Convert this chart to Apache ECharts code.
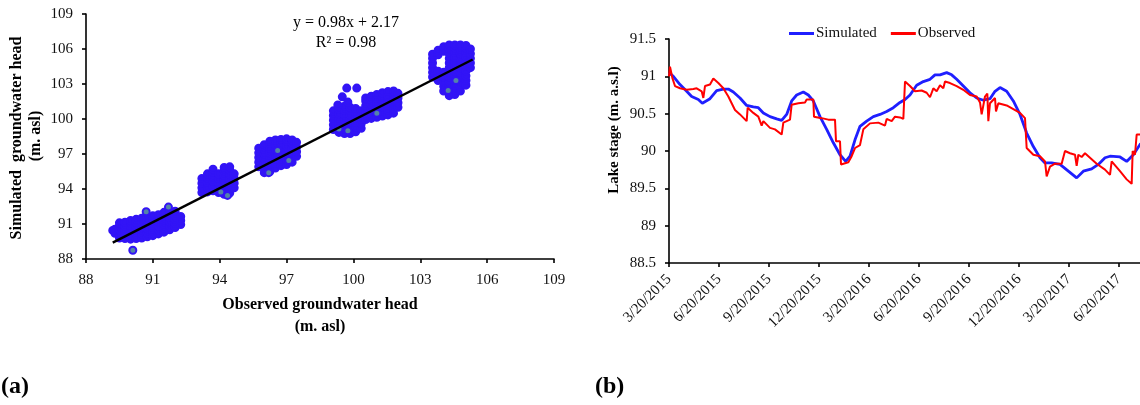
<!DOCTYPE html>
<html>
<head>
<meta charset="utf-8">
<script src="https://cdn.jsdelivr.net/npm/echarts@6/dist/echarts.min.js"></script>
<style>
  html, body { margin: 0; padding: 0; background: #fff; }
  #chart { width: 1140px; height: 405px; }
</style>
</head>
<body>
<div id="chart"></div>
<script>
// ---------- (a) scatter: observed vs simulated groundwater head (m. asl) ----------
const scatterTicks = [88, 91, 94, 97, 100, 103, 106, 109];
const scatterPoints = [
  // cluster near 90-92
  [89.3,90.2],[89.3,90.55],
  [89.5,89.8],[89.5,90.15],[89.5,90.5],[89.5,90.85],[89.5,91.1],
  [89.75,89.75],[89.75,90.1],[89.75,90.45],[89.75,90.8],[89.75,91.15],
  [90.0,89.7],[90.0,90.05],[90.0,90.4],[90.0,90.75],[90.0,91.1],[90.0,91.3],
  [90.25,89.75],[90.25,90.1],[90.25,90.45],[90.25,90.8],[90.25,91.15],[90.25,91.4],
  [90.5,89.8],[90.5,90.15],[90.5,90.5],[90.5,90.85],[90.5,91.2],[90.5,91.5],
  [90.75,89.9],[90.75,90.25],[90.75,90.6],[90.75,90.95],[90.75,91.3],[90.75,91.6],
  [91.0,90.0],[91.0,90.35],[91.0,90.7],[91.0,91.05],[91.0,91.4],[91.0,91.7],
  [91.25,90.15],[91.25,90.5],[91.25,90.85],[91.25,91.2],[91.25,91.55],[91.25,91.8],
  [91.5,90.3],[91.5,90.65],[91.5,91.0],[91.5,91.35],[91.5,91.7],[91.5,92.0],
  [91.75,90.5],[91.75,90.85],[91.75,91.2],[91.75,91.55],[91.75,91.9],[91.75,92.1],
  [92.0,90.7],[92.0,91.05],[92.0,91.4],[92.0,91.75],[92.0,92.1],
  [92.25,90.95],[92.25,91.3],[92.25,91.65],
  [89.2,90.45],
  // cluster near 94
  [93.2,93.7],[93.2,94.1],[93.2,94.5],[93.2,94.9],
  [93.45,93.75],[93.45,94.15],[93.45,94.55],[93.45,94.95],[93.45,95.3],
  [93.7,93.85],[93.7,94.25],[93.7,94.65],[93.7,95.05],[93.7,95.45],[93.7,95.7],
  [93.95,93.7],[93.95,94.1],[93.95,94.5],[93.95,94.9],[93.95,95.3],
  [94.2,93.55],[94.2,93.95],[94.2,94.35],[94.2,94.75],[94.2,95.15],[94.2,95.55],[94.2,95.85],
  [94.45,93.65],[94.45,94.05],[94.45,94.45],[94.45,94.85],[94.45,95.25],[94.45,95.65],[94.45,95.9],
  [94.65,94.1],[94.65,94.5],[94.65,94.9],[94.65,95.3],
  // cluster near 96-97
  [95.75,95.9],[95.75,96.3],[95.75,96.7],[95.75,97.1],[95.75,97.5],
  [96.0,95.4],[96.0,95.8],[96.0,96.2],[96.0,96.6],[96.0,97.0],[96.0,97.4],[96.0,97.8],
  [96.25,95.5],[96.25,95.9],[96.25,96.3],[96.25,96.7],[96.25,97.1],[96.25,97.5],[96.25,97.9],[96.25,98.1],
  [96.5,95.8],[96.5,96.2],[96.5,96.6],[96.5,97.0],[96.5,97.4],[96.5,97.8],[96.5,98.2],
  [96.75,96.0],[96.75,96.4],[96.75,96.8],[96.75,97.2],[96.75,97.6],[96.75,98.0],[96.75,98.25],
  [97.0,96.1],[97.0,96.5],[97.0,96.9],[97.0,97.3],[97.0,97.7],[97.0,98.1],[97.0,98.3],
  [97.25,96.3],[97.25,96.7],[97.25,97.1],[97.25,97.5],[97.25,97.9],[97.25,98.2],
  [97.45,96.8],[97.45,97.2],[97.45,97.6],[97.45,98.0],
  // cluster near 99-100
  [99.1,99.1],[99.1,99.5],[99.1,99.9],[99.1,100.3],[99.1,100.7],
  [99.35,98.85],[99.35,99.25],[99.35,99.65],[99.35,100.05],[99.35,100.45],[99.35,100.85],
  [99.6,98.75],[99.6,99.15],[99.6,99.55],[99.6,99.95],[99.6,100.35],[99.6,100.75],[99.6,101.1],
  [99.85,98.75],[99.85,99.15],[99.85,99.55],[99.85,99.95],[99.85,100.35],[99.85,100.75],[99.85,101.0],
  [100.1,98.9],[100.1,99.3],[100.1,99.7],[100.1,100.1],[100.1,100.5],[100.1,100.9],
  [100.35,99.2],[100.35,99.6],[100.35,100.0],[100.35,100.4],[100.35,100.7],
  [99.5,101.9],[99.75,101.45],[99.7,102.65],[100.15,102.65],[99.3,101.2],
  // cluster near 101-102
  [100.55,99.95],[100.55,100.35],[100.55,100.75],[100.55,101.15],[100.55,101.55],[100.55,101.8],
  [100.8,100.05],[100.8,100.45],[100.8,100.85],[100.8,101.25],[100.8,101.65],[100.8,101.95],
  [101.05,100.15],[101.05,100.55],[101.05,100.95],[101.05,101.35],[101.05,101.75],[101.05,102.1],
  [101.3,100.25],[101.3,100.65],[101.3,101.05],[101.3,101.45],[101.3,101.85],[101.3,102.25],
  [101.55,100.35],[101.55,100.75],[101.55,101.15],[101.55,101.55],[101.55,101.95],[101.55,102.35],
  [101.8,100.5],[101.8,100.9],[101.8,101.3],[101.8,101.7],[101.8,102.1],[101.8,102.4],
  [102.0,101.0],[102.0,101.4],[102.0,101.8],[102.0,102.2],
  // cluster near 104-105
  [103.55,103.6],[103.55,104.0],[103.55,104.4],[103.55,104.8],[103.55,105.2],[103.55,105.55],
  [103.8,103.3],[103.8,103.7],[103.8,104.1],[103.8,105.5],[103.8,105.9],
  [104.05,102.4],[104.05,102.8],[104.05,103.2],[104.05,103.6],[104.05,104.0],[104.05,105.8],[104.05,106.2],
  [104.3,102.0],[104.3,102.4],[104.3,102.8],[104.3,103.2],[104.3,103.6],[104.3,104.0],[104.3,104.4],[104.3,104.8],[104.3,105.2],[104.3,105.6],[104.3,106.0],[104.3,106.35],
  [104.55,102.1],[104.55,102.5],[104.55,102.9],[104.55,103.3],[104.55,103.7],[104.55,104.1],[104.55,104.5],[104.55,104.9],[104.55,105.3],[104.55,105.7],[104.55,106.1],[104.55,106.35],
  [104.8,102.4],[104.8,102.8],[104.8,103.2],[104.8,103.6],[104.8,104.0],[104.8,104.4],[104.8,104.8],[104.8,105.2],[104.8,105.6],[104.8,106.0],[104.8,106.35],
  [105.05,102.9],[105.05,103.3],[105.05,103.7],[105.05,104.1],[105.05,104.5],[105.05,104.9],[105.05,105.3],[105.05,105.7],[105.05,106.1],[105.05,106.3],
  [105.25,104.4],[105.25,104.8],[105.25,105.2],[105.25,105.6],[105.25,106.0]
];
// points whose lighter fill is visible in the figure
const scatterVisiblePoints = [
  [90.1,88.75],[90.7,92.05],[91.7,92.45],[94.05,93.75],[94.35,93.45],
  [96.2,95.4],[97.1,96.45],[96.6,97.3],[99.35,99.15],[99.75,99.0],
  [101.05,100.5],[104.6,103.3],[104.25,102.45]
];
// fitted line y = 0.98x + 2.17 as drawn (end points)
const trendX = [89.2, 105.35];
const trendY = [89.4, 105.1];

// ---------- (b) lake stage time series ----------
// x = months after 3/20/2015
const dateTickLabels = ['3/20/2015','6/20/2015','9/20/2015','12/20/2015','3/20/2016',
  '6/20/2016','9/20/2016','12/20/2016','3/20/2017','6/20/2017'];
const stageTicks = [88.5, 89, 89.5, 90, 90.5, 91, 91.5];
const simulatedMonths = [0.0,0.26,0.66,1.06,1.36,1.76,2.0,2.46,2.86,3.26,3.56,3.86,4.26,4.66,5.06,5.36,5.66,6.06,6.46,6.76,7.06,7.36,7.66,8.06,8.36,8.66,9.06,9.46,9.86,10.26,10.6,10.86,11.16,11.46,11.86,12.26,12.66,13.06,13.46,13.86,14.16,14.46,14.86,15.26,15.66,15.96,16.26,16.66,16.96,17.26,17.66,18.06,18.46,18.86,19.26,19.56,19.86,20.26,20.66,21.06,21.46,21.86,22.26,22.56,22.96,23.46,23.96,24.46,24.86,25.36,25.76,26.16,26.46,27.06,27.46,27.86,28.3];
const simulatedStage = [91.05,91.0,90.89,90.8,90.73,90.69,90.64,90.70,90.81,90.83,90.83,90.79,90.71,90.61,90.59,90.58,90.51,90.46,90.43,90.41,90.49,90.67,90.75,90.79,90.75,90.67,90.46,90.29,90.11,89.95,89.86,89.93,90.15,90.33,90.40,90.46,90.49,90.53,90.58,90.65,90.69,90.75,90.88,90.93,90.96,91.02,91.02,91.05,91.02,90.96,90.87,90.78,90.71,90.68,90.70,90.80,90.85,90.80,90.67,90.49,90.24,90.06,89.91,89.84,89.84,89.82,89.73,89.64,89.73,89.76,89.82,89.91,89.93,89.92,89.86,89.95,90.1];
const observedMonths = [0.0,0.06,0.2,0.36,0.66,1.06,1.46,1.66,1.96,2.06,2.16,2.46,2.66,2.96,3.26,3.56,3.96,4.26,4.66,4.72,5.06,5.36,5.56,5.66,6.06,6.36,6.76,6.86,7.26,7.36,7.76,8.16,8.26,8.66,8.7,9.16,9.56,9.66,9.96,10.02,10.26,10.32,10.76,10.96,11.16,11.46,11.66,12.06,12.56,12.96,13.06,13.36,13.56,13.86,14.06,14.16,14.46,14.76,15.16,15.46,15.66,15.86,16.06,16.26,16.46,16.56,16.86,17.26,17.66,18.06,18.46,18.66,18.76,18.96,19.1,19.16,19.26,19.56,19.62,19.76,20.26,20.66,21.06,21.36,21.46,21.86,22.26,22.56,22.66,22.86,23.16,23.56,23.76,24.06,24.36,24.46,24.56,24.76,24.96,25.26,25.66,26.16,26.46,26.56,27.06,27.46,27.76,27.82,27.96,28.06,28.3];
const observedStage = [91.0,91.13,90.98,90.87,90.84,90.82,90.83,90.84,90.80,90.71,90.87,90.89,90.97,90.91,90.84,90.73,90.55,90.49,90.40,90.58,90.51,90.46,90.34,90.40,90.31,90.29,90.22,90.38,90.42,90.62,90.64,90.65,90.69,90.69,90.46,90.44,90.42,90.44,90.42,90.13,90.13,89.82,89.85,89.93,90.04,90.08,90.29,90.37,90.38,90.34,90.43,90.40,90.46,90.45,90.43,90.93,90.87,90.80,90.81,90.78,90.72,90.84,90.80,90.88,90.84,90.93,90.91,90.87,90.82,90.75,90.73,90.65,90.49,90.73,90.77,90.40,90.64,90.71,90.53,90.64,90.61,90.56,90.51,90.44,90.04,89.95,89.93,89.86,89.66,89.79,89.83,89.83,90.0,89.97,89.95,89.80,89.95,89.92,89.97,89.91,89.83,89.75,89.68,89.86,89.73,89.62,89.56,90.0,89.95,90.22,90.22];
// the time axis runs on past the right edge of the figure
const dateAxisMaxMonths = 28.26;

const FONT = "'Liberation Serif', 'Times New Roman', serif";
const pairs = (xs, ys) => xs.map((x, i) => [x, ys[i]]);

const axisCommon = {
  axisLine: { show: true, lineStyle: { color: '#000', width: 1.6 } },
  axisTick: { show: true, length: 4, lineStyle: { color: '#000', width: 1.6 } },
  splitLine: { show: false },
};

function txt(text, x, y, size, bold, rot, align) {
  return {
    type: 'text', x: x, y: y, rotation: rot || 0,
    style: { text: text, fill: '#000', align: align || 'center', verticalAlign: 'middle',
      font: (bold ? 'bold ' : '') + size + 'px ' + FONT }
  };
}

const chart = echarts.init(document.getElementById('chart'));
chart.setOption({
  animation: false,
  backgroundColor: '#fff',
  textStyle: { fontFamily: FONT },
  legend: {
    data: ['Simulated', 'Observed'],
    left: 784, top: 21,
    icon: 'rect',
    itemWidth: 25, itemHeight: 3, itemGap: 14,
    textStyle: { fontFamily: FONT, fontSize: 15, color: '#111', padding: [0, 0, 0, -3] }
  },
  grid: [
    { left: 86, top: 14, width: 468, height: 245 },
    { left: 669, top: 39, right: 0, height: 224 }
  ],
  xAxis: [
    Object.assign({}, axisCommon, {
      gridIndex: 0, type: 'value', min: scatterTicks[0], max: scatterTicks[scatterTicks.length - 1], interval: 3,
      axisLabel: { fontFamily: FONT, fontSize: 15, color: '#111', margin: 14 }
    }),
    Object.assign({}, axisCommon, {
      gridIndex: 1, type: 'value', min: 0, max: dateAxisMaxMonths, interval: 3,
      axisLabel: {
        fontFamily: FONT, fontSize: 15, color: '#111', margin: 14, rotate: 45,
        showMaxLabel: false,
        formatter: v => (Math.abs(v % 3) < 1e-6 ? (dateTickLabels[Math.round(v / 3)] || '') : '')
      }
    })
  ],
  yAxis: [
    Object.assign({}, axisCommon, {
      gridIndex: 0, type: 'value', min: scatterTicks[0], max: scatterTicks[scatterTicks.length - 1], interval: 3,
      axisLabel: { fontFamily: FONT, fontSize: 15, color: '#111', margin: 13 }
    }),
    Object.assign({}, axisCommon, {
      gridIndex: 1, type: 'value', min: stageTicks[0], max: stageTicks[stageTicks.length - 1], interval: 0.5,
      axisLabel: { fontFamily: FONT, fontSize: 15, color: '#111', margin: 13 }
    })
  ],
  series: [
    {
      type: 'scatter', xAxisIndex: 0, yAxisIndex: 0, data: scatterPoints,
      symbol: 'circle', symbolSize: 7,
      itemStyle: { color: '#3214f6', borderColor: '#3214f6', borderWidth: 2, opacity: 1 }
    },
    {
      type: 'scatter', xAxisIndex: 0, yAxisIndex: 0, data: scatterVisiblePoints,
      symbol: 'circle', symbolSize: 7,
      itemStyle: { color: '#5383a8', borderColor: '#3214f6', borderWidth: 2, opacity: 1 }
    },
    {
      type: 'line', xAxisIndex: 0, yAxisIndex: 0, data: pairs(trendX, trendY),
      symbol: 'none', lineStyle: { color: '#000', width: 2.5 }, z: 5
    },
    {
      name: 'Simulated', type: 'line', xAxisIndex: 1, yAxisIndex: 1,
      data: pairs(simulatedMonths, simulatedStage),
      symbol: 'none', color: '#1f1fff', lineStyle: { color: '#1f1fff', width: 2.8 }
    },
    {
      name: 'Observed', type: 'line', xAxisIndex: 1, yAxisIndex: 1,
      data: pairs(observedMonths, observedStage),
      symbol: 'none', color: '#ff0000', lineStyle: { color: '#ff0000', width: 2 }
    }
  ],
  graphic: [
    txt('y = 0.98x + 2.17', 346, 23, 16, false),
    txt('R\u00b2 = 0.98', 346, 43, 16, false),
    txt('Observed groundwater head', 320, 305, 16, true),
    txt('(m. asl)', 320, 327, 16, true),
    txt('Simulated  groundwater head', 17, 138, 16, true, Math.PI / 2),
    txt('(m. asl)', 36, 136, 16, true, Math.PI / 2),
    txt('Lake stage (m. a.s.l)', 614, 130, 15, true, Math.PI / 2),
    txt('(a)', 1, 387, 24, true, 0, 'left'),
    txt('(b)', 595, 387, 24, true, 0, 'left')
  ]
});
</script>
</body>
</html>
